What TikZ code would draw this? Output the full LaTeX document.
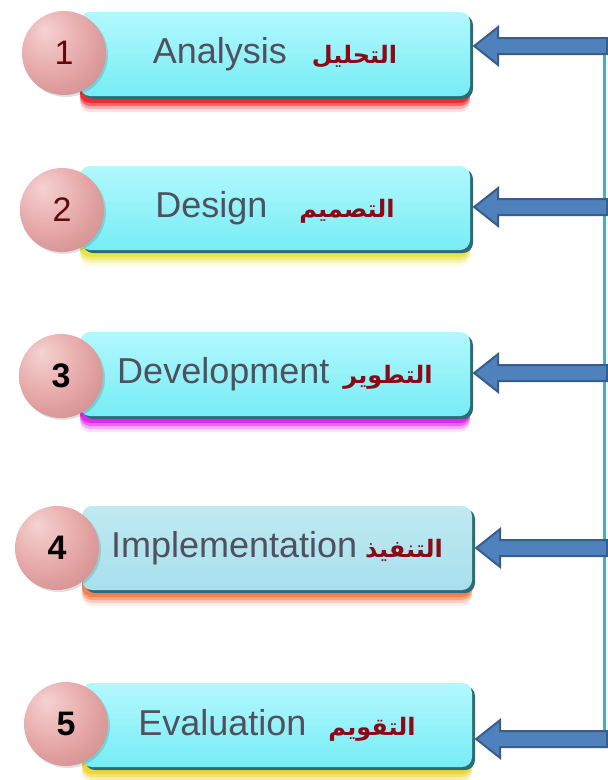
\documentclass[tikz,border=0pt]{standalone}
\usepackage{fontspec}
\setmainfont{Liberation Sans}
\newfontfamily\arabicfont[Script=Arabic]{DejaVu Sans}
\TeXXeTstate=1
\usetikzlibrary{calc,shadows}

\definecolor{boxtop}{HTML}{B2F8FC}
\definecolor{boxmain}{HTML}{76EDF5}
\definecolor{boxpale}{HTML}{A6E0EC}
\definecolor{boxedge}{HTML}{2B6C76}
\definecolor{textgrey}{HTML}{50505E}
\definecolor{arabred}{HTML}{8A0A16}
\definecolor{arrowfill}{HTML}{4F81BD}
\definecolor{arrowline}{HTML}{385D8A}
\definecolor{trunkline}{HTML}{4BACC6}
\definecolor{balllight}{HTML}{F6D2D2}
\definecolor{ballmid}{HTML}{E6A8A8}
\definecolor{balldark}{HTML}{C47A7A}
\definecolor{numred}{HTML}{5C0A0A}
\definecolor{glowred}{HTML}{E8141E}
\definecolor{glowyellow}{HTML}{E6E23A}
\definecolor{glowmagenta}{HTML}{E010E8}
\definecolor{gloworange}{HTML}{F07442}
\definecolor{glowgold}{HTML}{F0D020}

% pink ball, light spot up left
\pgfdeclareradialshading{pinkball}{\pgfpoint{-12bp}{14bp}}{%
  color(0bp)=(balllight); color(22bp)=(ballmid); color(50bp)=(balldark); color(70bp)=(balldark)}

\newcommand\arword[1]{{\arabicfont\bfseries\fontsize{24}{28}\selectfont\color{arabred}\beginR #1\endR}}

\tikzset{
  stage/.style={rounded corners=10pt, minimum width=390pt, minimum height=84pt,
    inner sep=0pt, top color=boxtop, bottom color=boxmain, text=textgrey,
    font=\fontsize{36}{40}\selectfont,
    general shadow={fill=#1, opacity=.12, shadow yshift=-16pt},
    general shadow={fill=#1, opacity=.25, shadow yshift=-13pt},
    general shadow={fill=#1, opacity=.45, shadow yshift=-10pt},
    general shadow={fill=#1, opacity=.7, shadow yshift=-7pt},
    general shadow={fill=boxedge, shadow xshift=3pt, shadow yshift=-3pt}},
  ball/.style={circle, minimum size=84pt, inner sep=0pt, shading=pinkball,
    text=numred, font=\fontsize{34}{36}\selectfont,
    general shadow={fill=black, opacity=.12, shadow xshift=2pt, shadow yshift=-2pt}},
  boldnum/.style={text=black, font=\fontsize{34}{36}\selectfont\bfseries},
  trunk/.style={draw=trunkline, line width=3pt},
  blockarrow/.style={draw=arrowline, fill=arrowfill, line width=2pt, line join=miter,
    to path={let \p1=(\tikztostart), \p2=(\tikztotarget) in
      (\x1,\y1+8pt) -- (\x2+28pt,\y1+8pt) -- (\x2+28pt,\y1+19pt) -- (\x2+4pt,\y1)
      -- (\x2+28pt,\y1-19pt) -- (\x2+28pt,\y1-8pt) -- (\x1,\y1-8pt) -- cycle}}
}

\begin{document}
\begin{tikzpicture}[x=1pt,y=-1pt]
  \useasboundingbox[fill=white] (0,0) rectangle (608,780);

  % the five stages
  \node[stage=glowred] (b1) at (275,54) {Analysis\hspace{25pt}\arword{التحليل}};
  \node[stage=glowyellow] (b2) at (275,208) {Design\hspace{32pt}\arword{التصميم}};
  \node[stage=glowmagenta] (b3) at (275,374) {Development\hspace{14pt}\arword{التطوير}};
  \node[stage=gloworange, top color=boxpale!70!white, bottom color=boxpale] (b4) at (277,548)
    {Implementation\hspace{8pt}\arword{التنفيذ}};
  \node[stage=glowgold] (b5) at (277,725) {Evaluation\hspace{22pt}\arword{التقويم}};

  % numbered balls
  \node[ball] (c1) at (64,53) {1};
  \node[ball] (c2) at (62,210) {2};
  \node[ball, boldnum] (c3) at (61,376) {3};
  \node[ball, boldnum] (c4) at (57,548) {4};
  \node[ball, boldnum] (c5) at (66,724) {5};

  % feedback line on the right
  \coordinate (t1) at (607,46);
  \coordinate (t2) at (607,207);
  \coordinate (t3) at (607,373);
  \coordinate (t4) at (607,548);
  \coordinate (t5) at (607,739);
  \draw[trunk] ([xshift=-3pt]t1) -- ([xshift=-3pt,yshift=-9pt]t5);

  \foreach \i in {1,...,5}
    \path[blockarrow] (t\i) to (b\i.east);
\end{tikzpicture}
\end{document}
